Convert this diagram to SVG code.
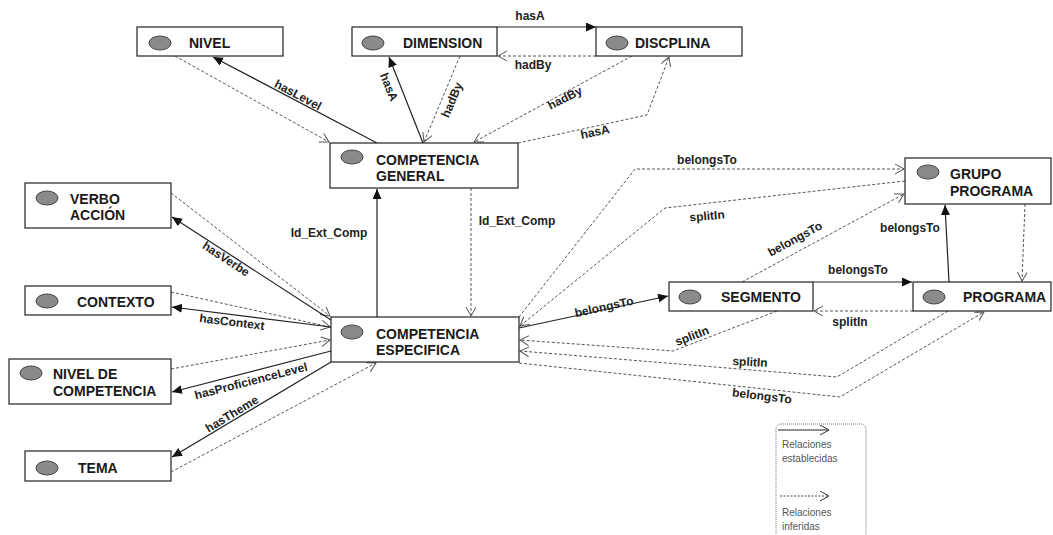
<svg xmlns="http://www.w3.org/2000/svg" width="1053" height="535" viewBox="0 0 1053 535">
  <style>
    .box { fill: #ffffff; stroke: #222; stroke-width: 1.2; }
    .dot { fill: #8a8a8a; stroke: #444; stroke-width: 1; }
    .name { font-family: "Liberation Sans", Arial, sans-serif; font-size: 14px; font-weight: bold; fill: #1a1a1a; }
    .lbl { font-family: "Liberation Sans", Arial, sans-serif; font-size: 12px; font-weight: bold; fill: #222; text-anchor: middle; }
    .leg { font-family: "Liberation Sans", Arial, sans-serif; font-size: 10px; fill: #555; }
    .solid { fill: none; stroke: #222; stroke-width: 1.2; marker-end: url(#filled); }
    .dash { fill: none; stroke: #555; stroke-width: 1; stroke-dasharray: 3 2; marker-end: url(#open); }
  </style>
  <defs>
    <marker id="filled" markerUnits="userSpaceOnUse" markerWidth="12" markerHeight="10" refX="10" refY="4.5" orient="auto">
      <path d="M0,0 L10,4.5 L0,9 z" fill="#111"/>
    </marker>
    <marker id="open" markerUnits="userSpaceOnUse" markerWidth="12" markerHeight="12" refX="9" refY="5" orient="auto">
      <path d="M0,0 L9,5 L0,10" fill="none" stroke="#555" stroke-width="1"/>
    </marker>
    <marker id="openLeg" markerUnits="userSpaceOnUse" markerWidth="12" markerHeight="12" refX="9" refY="5" orient="auto">
      <path d="M0,0 L9,5 L0,10" fill="none" stroke="#333" stroke-width="1"/>
    </marker>
  </defs>

  <!-- connectors -->
  <g id="connectors">
    <!-- NIVEL / COMPETENCIA GENERAL -->
    <line class="dash" x1="175" y1="56" x2="329" y2="142"/>
    <line class="solid" x1="377" y1="143" x2="213" y2="57"/>
    <text class="lbl" transform="rotate(28 298 95)" x="298" y="99">hasLevel</text>

    <!-- DIMENSION / COMPETENCIA GENERAL -->
    <line class="solid" x1="423" y1="143" x2="389" y2="57"/>
    <text class="lbl" transform="rotate(68 389 87)" x="389" y="91">hasA</text>
    <line class="dash" x1="460" y1="56" x2="424" y2="142"/>
    <text class="lbl" transform="rotate(-67 452 100)" x="452" y="104">hadBy</text>

    <!-- DIMENSION / DISCPLINA -->
    <line class="solid" x1="497" y1="27" x2="596" y2="27"/>
    <text class="lbl" x="530" y="20">hasA</text>
    <line class="dash" x1="596" y1="56" x2="498" y2="56"/>
    <text class="lbl" x="533" y="69">hadBy</text>

    <!-- DISCPLINA / COMPETENCIA GENERAL -->
    <line class="dash" x1="632" y1="56" x2="474" y2="142"/>
    <text class="lbl" transform="rotate(-27 565 98)" x="565" y="102">hadBy</text>
    <polyline class="dash" points="518,143 647,115 669,57"/>
    <text class="lbl" transform="rotate(-12 595 132)" x="595" y="136">hasA</text>

    <!-- COMPETENCIA ESPECIFICA / COMPETENCIA GENERAL -->
    <line class="solid" x1="377" y1="317" x2="377" y2="189"/>
    <text class="lbl" x="329" y="237">Id_Ext_Comp</text>
    <line class="dash" x1="471" y1="188" x2="471" y2="316"/>
    <text class="lbl" x="517" y="225">Id_Ext_Comp</text>

    <!-- VERBO ACCIÓN -->
    <line class="dash" x1="171" y1="193" x2="330" y2="316"/>
    <line class="solid" x1="331" y1="320" x2="172" y2="217"/>
    <text class="lbl" transform="rotate(33 226 259)" x="226" y="263">hasVerbe</text>

    <!-- CONTEXTO -->
    <line class="dash" x1="171" y1="292" x2="330" y2="327"/>
    <line class="solid" x1="331" y1="327" x2="172" y2="307"/>
    <text class="lbl" transform="rotate(7 232 322)" x="232" y="326">hasContext</text>

    <!-- NIVEL DE COMPETENCIA -->
    <line class="dash" x1="171" y1="369" x2="330" y2="340"/>
    <line class="solid" x1="331" y1="351" x2="172" y2="392"/>
    <text class="lbl" transform="rotate(-14.5 251 381)" x="251" y="385">hasProficienceLevel</text>

    <!-- TEMA -->
    <line class="solid" x1="331" y1="362" x2="172" y2="457"/>
    <text class="lbl" transform="rotate(-31 232 414)" x="232" y="418">hasTheme</text>
    <line class="dash" x1="171" y1="472" x2="376" y2="363"/>

    <!-- COMPETENCIA ESPECIFICA / GRUPO PROGRAMA -->
    <polyline class="dash" points="519,317 635,169 904,169"/>
    <text class="lbl" x="707" y="164">belongsTo</text>
    <polyline class="dash" points="905,181 665,208 520,326"/>
    <text class="lbl" transform="rotate(-5 707 216)" x="707" y="220">splitIn</text>

    <!-- COMPETENCIA ESPECIFICA / SEGMENTO -->
    <line class="solid" x1="519" y1="328" x2="668" y2="296"/>
    <text class="lbl" transform="rotate(-12.5 604 307)" x="604" y="311">belongsTo</text>
    <polyline class="dash" points="777,311 673,351 520,340"/>
    <text class="lbl" transform="rotate(-21 692 336)" x="692" y="340">splitIn</text>

    <!-- COMPETENCIA ESPECIFICA / PROGRAMA -->
    <polyline class="dash" points="948,311 837,377 520,351"/>
    <text class="lbl" transform="rotate(3 750 362)" x="750" y="366">splitIn</text>
    <polyline class="dash" points="519,363 840,397 984,312"/>
    <text class="lbl" transform="rotate(7 762 396)" x="762" y="400">belongsTo</text>

    <!-- SEGMENTO / PROGRAMA -->
    <line class="solid" x1="813" y1="282" x2="912" y2="282"/>
    <text class="lbl" x="858" y="274">belongsTo</text>
    <line class="dash" x1="913" y1="311" x2="814" y2="311"/>
    <text class="lbl" x="850" y="326">splitIn</text>

    <!-- SEGMENTO / GRUPO PROGRAMA -->
    <line class="dash" x1="742" y1="282" x2="904" y2="194"/>
    <text class="lbl" transform="rotate(-28.6 795 239)" x="795" y="243">belongsTo</text>

    <!-- PROGRAMA / GRUPO PROGRAMA -->
    <line class="solid" x1="949" y1="282" x2="945" y2="205"/>
    <text class="lbl" x="910" y="232">belongsTo</text>
    <line class="dash" x1="1025" y1="204" x2="1022" y2="281"/>
  </g>

  <!-- nodes -->
  <g id="nivel">
    <rect class="box" x="137" y="27" width="146" height="29"/>
    <ellipse class="dot" cx="160" cy="43" rx="11" ry="7"/>
    <text class="name" x="189" y="48">NIVEL</text>
  </g>
  <g id="dimension">
    <rect class="box" x="352" y="27" width="145" height="29"/>
    <ellipse class="dot" cx="373" cy="43" rx="11" ry="7"/>
    <text class="name" x="403" y="48">DIMENSION</text>
  </g>
  <g id="discplina">
    <rect class="box" x="596" y="27" width="146" height="29"/>
    <ellipse class="dot" cx="617" cy="43" rx="11" ry="7"/>
    <text class="name" x="635" y="48">DISCPLINA</text>
  </g>
  <g id="competencia-general">
    <rect class="box" x="330" y="143" width="188" height="45"/>
    <ellipse class="dot" cx="352" cy="157" rx="11" ry="7"/>
    <text class="name" x="376" y="165">COMPETENCIA</text>
    <text class="name" x="376" y="181">GENERAL</text>
  </g>
  <g id="competencia-especifica">
    <rect class="box" x="331" y="317" width="188" height="45"/>
    <ellipse class="dot" cx="352" cy="332" rx="11" ry="7"/>
    <text class="name" x="376" y="339">COMPETENCIA</text>
    <text class="name" x="376" y="355">ESPECIFICA</text>
  </g>
  <g id="verbo-accion">
    <rect class="box" x="25" y="183" width="146" height="45"/>
    <ellipse class="dot" cx="47" cy="198" rx="11" ry="7"/>
    <text class="name" x="70" y="204">VERBO</text>
    <text class="name" x="70" y="220">ACCIÓN</text>
  </g>
  <g id="contexto">
    <rect class="box" x="25" y="286" width="146" height="29"/>
    <ellipse class="dot" cx="47" cy="301" rx="11" ry="7"/>
    <text class="name" x="77" y="307">CONTEXTO</text>
  </g>
  <g id="nivel-de-competencia">
    <rect class="box" x="9" y="359" width="162" height="45"/>
    <ellipse class="dot" cx="31" cy="373" rx="11" ry="7"/>
    <text class="name" x="53" y="379">NIVEL DE</text>
    <text class="name" x="53" y="396">COMPETENCIA</text>
  </g>
  <g id="tema">
    <rect class="box" x="25" y="451" width="146" height="30"/>
    <ellipse class="dot" cx="47" cy="468" rx="11" ry="7"/>
    <text class="name" x="78" y="473">TEMA</text>
  </g>
  <g id="grupo-programa">
    <rect class="box" x="905" y="158" width="146" height="46"/>
    <ellipse class="dot" cx="928" cy="172" rx="11" ry="7"/>
    <text class="name" x="950" y="179">GRUPO</text>
    <text class="name" x="950" y="196">PROGRAMA</text>
  </g>
  <g id="segmento">
    <rect class="box" x="669" y="282" width="144" height="29"/>
    <ellipse class="dot" cx="690" cy="297" rx="11" ry="7"/>
    <text class="name" x="721" y="302">SEGMENTO</text>
  </g>
  <g id="programa">
    <rect class="box" x="913" y="282" width="138" height="29"/>
    <ellipse class="dot" cx="934" cy="297" rx="11" ry="7"/>
    <text class="name" x="963" y="302">PROGRAMA</text>
  </g>

  <!-- legend -->
  <g id="legend">
    <rect x="776" y="424" width="90" height="130" rx="5" ry="5" fill="none" stroke="#777" stroke-width="1" stroke-dasharray="1 1"/>
    <line x1="778" y1="430" x2="829" y2="430" stroke="#222" stroke-width="1" marker-end="url(#openLeg)"/>
    <text class="leg" x="782" y="448">Relaciones</text>
    <text class="leg" x="782" y="462">establecidas</text>
    <line x1="780" y1="496" x2="829" y2="496" stroke="#444" stroke-width="1" stroke-dasharray="2 1.5" marker-end="url(#openLeg)"/>
    <text class="leg" x="782" y="516">Relaciones</text>
    <text class="leg" x="782" y="530">inferidas</text>
  </g>
</svg>
